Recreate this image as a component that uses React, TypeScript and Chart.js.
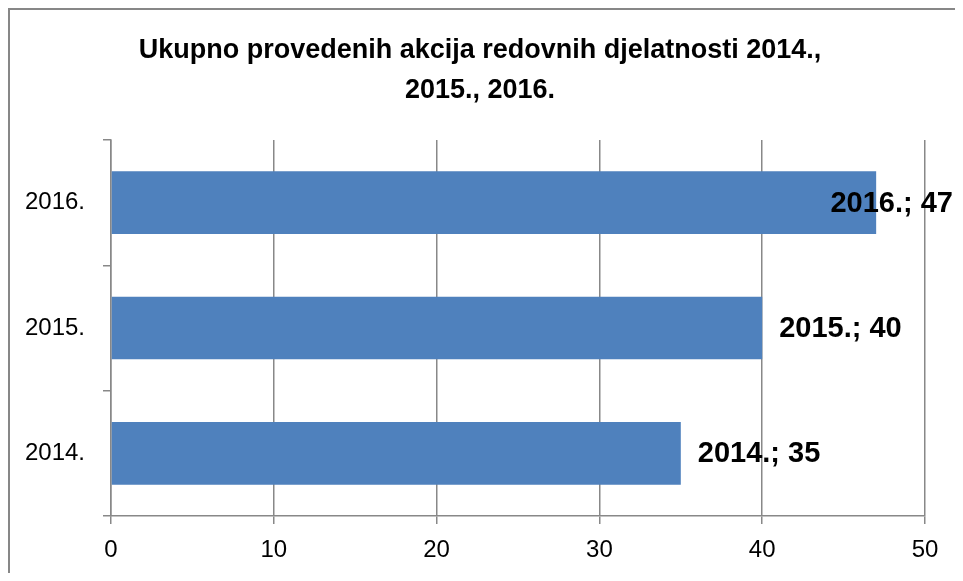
import React, { useEffect, useRef } from "react";
import { Chart, registerables } from "chart.js";

Chart.register(...registerables);

const categories = ["2016.", "2015.", "2014."];
const values = [47, 40, 35];
const titleLines = ["Ukupno provedenih akcija redovnih djelatnosti 2014.,", "2015., 2016."];
const FONT = "'Liberation Sans', Arial, sans-serif";

const framePlugin = {
  id: "frame",
  beforeDraw(chart: any) {
    const ctx = chart.ctx;
    ctx.save();
    ctx.fillStyle = "#ffffff";
    ctx.fillRect(0, 0, chart.width, chart.height);
    ctx.strokeStyle = "#878787";
    ctx.lineWidth = 2;
    ctx.beginPath();
    ctx.moveTo(1, chart.height);
    ctx.lineTo(1, 1);
    ctx.lineTo(chart.width, 1);
    ctx.stroke();
    ctx.fillStyle = "#000000";
    ctx.font = `bold 27px ${FONT}`;
    ctx.textAlign = "center";
    ctx.textBaseline = "middle";
    ctx.fillText(titleLines[0], 472, 43);
    ctx.fillText(titleLines[1], 472, 83);
    ctx.restore();
  },
};

const labelPlugin = {
  id: "barLabels",
  afterDatasetsDraw(chart: any) {
    const ctx = chart.ctx;
    const meta = chart.getDatasetMeta(0);
    ctx.save();
    ctx.font = `bold 29px ${FONT}`;
    ctx.fillStyle = "#000000";
    ctx.textAlign = "left";
    ctx.textBaseline = "middle";
    meta.data.forEach((bar: any, i: number) => {
      const text = `${categories[i]}; ${values[i]}`;
      const w = ctx.measureText(text).width;
      let x = bar.x + 17;
      const maxRight = chart.width - 2;
      if (x + w > maxRight) x = maxRight - w;
      ctx.fillText(text, x, bar.y + 1);
    });
    ctx.restore();
  },
};

export default function App() {
  const ref = useRef<HTMLCanvasElement>(null);
  useEffect(() => {
    document.body.style.overflow = "hidden";
    const chart = new Chart(ref.current!, {
      type: "bar",
      data: {
        labels: categories,
        datasets: [
          {
            data: values,
            backgroundColor: "#4F81BD",
            barPercentage: 0.5,
            categoryPercentage: 1,
          },
        ],
      },
      options: {
        indexAxis: "y",
        animation: false,
        responsive: false,
        layout: { padding: { top: 132, right: 30, left: 0, bottom: 0 } },
        plugins: { legend: { display: false }, tooltip: { enabled: false }, title: { display: false } },
        scales: {
          x: {
            min: 0,
            max: 50,
            ticks: { stepSize: 10, color: "#000", font: { family: FONT, size: 24 }, padding: 12 },
            grid: { color: "#888888", lineWidth: 1.5, tickLength: 8, drawTicks: true },
            border: { color: "#888888", width: 1.5 },
            afterFit(scale: any) {
              scale.height = 57;
            },
          },
          y: {
            ticks: { color: "#000", font: { family: FONT, size: 24 }, padding: 18 },
            grid: { display: true, drawOnChartArea: false, offset: true, color: "#888888", lineWidth: 1.5, tickLength: 8 },
            border: { color: "#888888", width: 1.5 },
            afterFit(scale: any) {
              scale.width = 103;
            },
          },
        },
      },
      plugins: [framePlugin, labelPlugin],
    });
    return () => chart.destroy();
  }, []);
  return <canvas ref={ref} width={947} height={565} style={{ display: "block" }} />;
}
